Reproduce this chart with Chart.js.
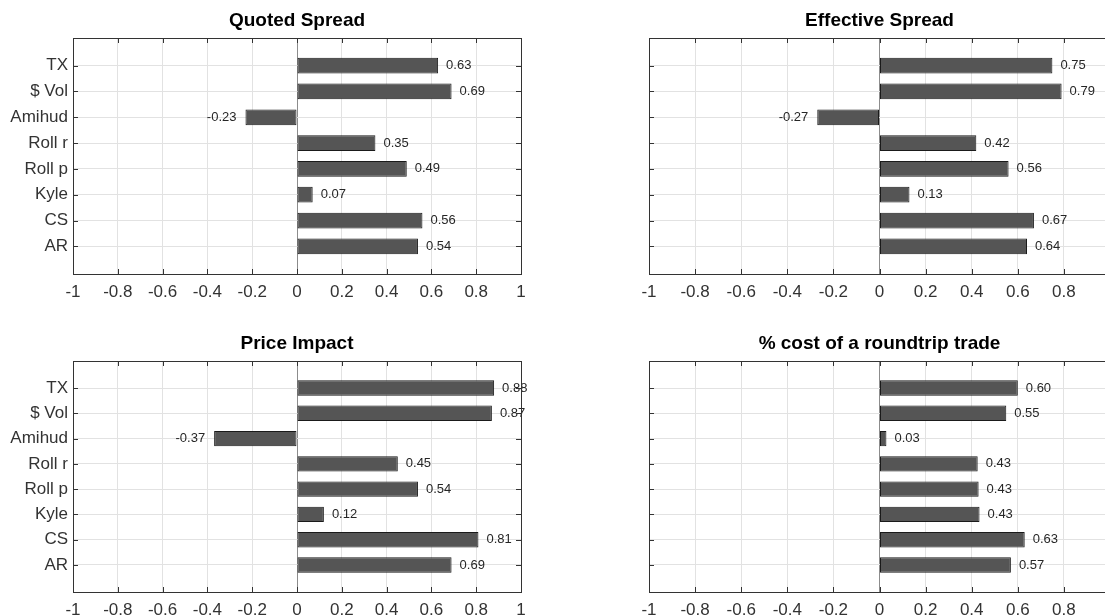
<!DOCTYPE html>
<html>
<head>
<meta charset="utf-8">
<script src="https://cdn.jsdelivr.net/npm/chart.js@4/dist/chart.umd.min.js"></script>
<style>
  html, body { margin: 0; padding: 0; background: #fff; overflow: hidden; }
  body { width: 1105px; height: 616px; position: relative; }
  canvas { position: absolute; }
</style>
</head>
<body>
<canvas id="c1" width="560" height="310" style="left:0;top:0"></canvas>
<canvas id="c2" width="545" height="310" style="left:580px;top:0"></canvas>
<canvas id="c3" width="560" height="300" style="left:0;top:320px"></canvas>
<canvas id="c4" width="545" height="300" style="left:580px;top:320px"></canvas>
<script>
const cats = ['TX', '$ Vol', 'Amihud', 'Roll r', 'Roll p', 'Kyle', 'CS', 'AR'];
const quoted = [0.63, 0.69, -0.23, 0.35, 0.49, 0.07, 0.56, 0.54];
const effective = [0.75, 0.79, -0.27, 0.42, 0.56, 0.13, 0.67, 0.64];
const impact = [0.88, 0.87, -0.37, 0.45, 0.54, 0.12, 0.81, 0.69];
const roundtrip = [0.60, 0.55, 0.03, 0.426, 0.43, 0.434, 0.63, 0.57];
const xTicks = [-1, -0.8, -0.6, -0.4, -0.2, 0, 0.2, 0.4, 0.6, 0.8, 1];

const FONT = '"Liberation Sans", Arial, Helvetica, sans-serif';
const axisColor = '#333333';
const gridColor = '#e2e2e2';

// title, value labels, box with inward ticks (matlab look)
function deco(title) {
  return {
    id: 'deco',
    afterDatasetsDraw(chart) {
      const ctx = chart.ctx;
      const meta = chart.getDatasetMeta(0);
      const vals = chart.data.datasets[0].data;
      ctx.save();
      ctx.font = '13px ' + FONT;
      ctx.fillStyle = '#262626';
      ctx.textBaseline = 'middle';
      meta.data.forEach((bar, i) => {
        const v = vals[i].x;
        const txt = v.toFixed(2);
        if (v < 0) {
          ctx.textAlign = 'right';
          ctx.fillText(txt, bar.x - 9, bar.y);
        } else {
          ctx.textAlign = 'left';
          ctx.fillText(txt, bar.x + 8, bar.y);
        }
      });
      ctx.restore();
    },
    afterDraw(chart) {
      const ctx = chart.ctx;
      const a = chart.chartArea;
      const xs = chart.scales.x, ys = chart.scales.y;
      ctx.save();
      ctx.strokeStyle = axisColor;
      ctx.lineWidth = 1;
      ctx.strokeRect(Math.round(a.left) + 0.5, Math.round(a.top) + 0.5,
        Math.round(a.right - a.left), Math.round(a.bottom - a.top));
      ctx.beginPath();
      xTicks.forEach(v => {
        const px = Math.round(xs.getPixelForValue(v)) + 0.5;
        ctx.moveTo(px, a.top); ctx.lineTo(px, a.top + 5);
        ctx.moveTo(px, a.bottom); ctx.lineTo(px, a.bottom - 5);
      });
      cats.forEach((c, i) => {
        const py = Math.round(ys.getPixelForValue(i + 1)) + 0.5;
        ctx.moveTo(a.left, py); ctx.lineTo(a.left + 5, py);
        ctx.moveTo(a.right, py); ctx.lineTo(a.right - 5, py);
      });
      ctx.stroke();
      ctx.font = 'bold 19px ' + FONT;
      ctx.fillStyle = '#000';
      ctx.textAlign = 'center';
      ctx.textBaseline = 'middle';
      ctx.fillText(title, (a.left + a.right) / 2, a.top - 17);
      ctx.restore();
    }
  };
}

function makePanel(id, title, values, showCats, area) {
  const canvas = document.getElementById(id);
  const w = canvas.width, h = canvas.height;
  new Chart(canvas, {
    type: 'bar',
    data: {
      datasets: [{
        data: values.map((v, i) => ({ x: v, y: i + 1 })),
        backgroundColor: '#555555',
        borderColor: '#1a1a1a',
        borderWidth: 1,
        borderSkipped: false,
        categoryPercentage: 1,
        barPercentage: 0.61
      }]
    },
    options: {
      responsive: false,
      animation: false,
      indexAxis: 'y',
      layout: { padding: { top: area.top, right: w - area.right, left: 0, bottom: 0 } },
      plugins: { legend: { display: false }, tooltip: { enabled: false } },
      scales: {
        x: {
          type: 'linear',
          min: -1,
          max: 1,
          offset: false,
          afterBuildTicks: s => { s.ticks = xTicks.map(v => ({ value: v })); },
          afterFit: s => { s.height = h - area.bottom; },
          border: { display: false },
          grid: {
            offset: false,
            drawTicks: false,
            color: c => (c.tick && c.tick.value === 0 ? '#8c8c8c' : gridColor)
          },
          ticks: {
            padding: 8,
            autoSkip: false,
            maxRotation: 0,
            color: axisColor,
            font: { family: FONT, size: 17 },
            callback: v => String(v)
          }
        },
        y: {
          type: 'linear',
          reverse: true,
          offset: false,
          min: -0.07,
          max: 9.07,
          afterBuildTicks: s => { s.ticks = cats.map((c, i) => ({ value: i + 1 })); },
          afterFit: s => { s.width = area.left; },
          border: { display: false },
          grid: { offset: false, drawTicks: false, color: gridColor },
          ticks: {
            display: showCats,
            padding: 5,
            color: axisColor,
            font: { family: FONT, size: 17 },
            callback: v => cats[v - 1]
          }
        }
      }
    },
    plugins: [deco(title)]
  });
}

makePanel('c1', 'Quoted Spread', quoted, true, { left: 73, right: 521, top: 38, bottom: 274 });
makePanel('c2', 'Effective Spread', effective, false, { left: 69, right: 530, top: 38, bottom: 274 });
makePanel('c3', 'Price Impact', impact, true, { left: 73, right: 521, top: 41, bottom: 272 });
makePanel('c4', '% cost of a roundtrip trade', roundtrip, false, { left: 69, right: 530, top: 41, bottom: 272 });
</script>
</body>
</html>
